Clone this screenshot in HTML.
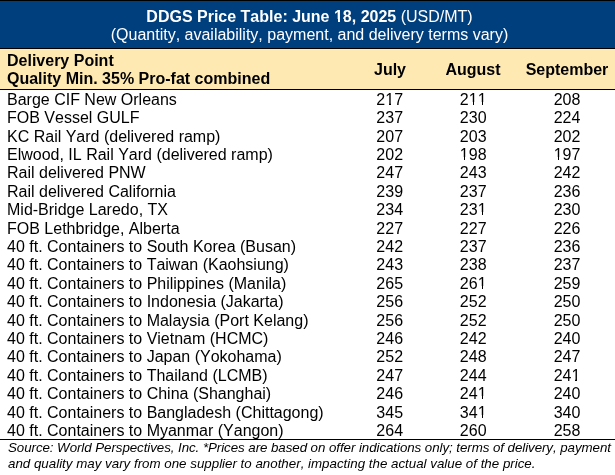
<!DOCTYPE html>
<html><head><meta charset="utf-8"><style>
*{margin:0;padding:0;box-sizing:border-box}
html,body{width:615px;height:475px;overflow:hidden;background:#fff}
body{position:relative;font-family:"Liberation Sans",sans-serif;color:#000;font-kerning:none;font-feature-settings:"kern" 0}
.a{position:absolute;white-space:nowrap}
.t{will-change:transform}
.r{position:absolute;left:0;width:615px;will-change:transform;height:18px;line-height:18px;font-size:16px}
.c{position:absolute;top:0;width:80px;text-align:center}
.o{font-style:normal;position:relative}
.o::before,.o::after{content:'';position:absolute;background:#fff;height:2.2px;bottom:3.35px}
.o::before{left:0;width:4px}
.o::after{left:5.55px;width:4px}
.ob{font-style:normal;position:relative}
.ob::before,.ob::after{content:'';position:absolute;background:#003f7d;height:2.2px;bottom:3.35px}
.ob::before{left:0;width:4px}
.ob::after{left:6px;width:4px}
</style></head><body>

<div class="a" style="left:0;top:0;width:615px;height:1px;background:#000"></div>
<div class="a" style="left:0;top:1px;width:615px;height:47px;background:#003f7d"></div>
<div class="a" style="left:0;top:48px;width:615px;height:1px;background:#000"></div>
<div class="a" style="left:0;top:49px;width:615px;height:40px;background:#fee9b2"></div>
<div class="a" style="left:0;top:89px;width:615px;height:1px;background:#000"></div>
<div class="a t" style="left:1.5px;top:8.06px;width:615px;text-align:center;color:#fff;font-size:16px;line-height:18px"><b>DDGS Price Table: June <i class="ob">1</i>8, 2025</b> (USD/MT)<br>(Quantity, availability, payment, and delivery terms vary)</div>
<div class="a t" style="left:7px;top:51.956px;font-weight:bold;font-size:16px;line-height:18px">Delivery Point<br>Quality Min. 35% Pro-fat combined</div>
<div class="a t" style="left:329.7px;top:61.456px;width:120px;text-align:center;font-weight:bold;font-size:16px;line-height:18px">July</div>
<div class="a t" style="left:413.2px;top:61.456px;width:120px;text-align:center;font-weight:bold;font-size:16px;line-height:18px">August</div>
<div class="a t" style="left:507px;top:61.456px;width:120px;text-align:center;font-weight:bold;font-size:16px;line-height:18px">September</div>
<div class="r" style="top:90.72px"><span class="a" style="left:7px">Barge CIF New Orleans</span>
<span class="c" style="left:349.70px">2<i class="o">1</i>7</span>
<span class="c" style="left:433.20px">2<i class="o">1</i><i class="o">1</i></span>
<span class="c" style="left:527.00px">208</span>
</div>
<div class="r" style="top:109.12px"><span class="a" style="left:7px">FOB Vessel GULF</span>
<span class="c" style="left:349.70px">237</span>
<span class="c" style="left:433.20px">230</span>
<span class="c" style="left:527.00px">224</span>
</div>
<div class="r" style="top:127.53px"><span class="a" style="left:7px">KC Rail Yard (delivered ramp)</span>
<span class="c" style="left:349.70px">207</span>
<span class="c" style="left:433.20px">203</span>
<span class="c" style="left:527.00px">202</span>
</div>
<div class="r" style="top:145.93px"><span class="a" style="left:7px">Elwood, IL Rail Yard (delivered ramp)</span>
<span class="c" style="left:349.70px">202</span>
<span class="c" style="left:433.20px"><i class="o">1</i>98</span>
<span class="c" style="left:527.00px"><i class="o">1</i>97</span>
</div>
<div class="r" style="top:164.33px"><span class="a" style="left:7px">Rail delivered PNW</span>
<span class="c" style="left:349.70px">247</span>
<span class="c" style="left:433.20px">243</span>
<span class="c" style="left:527.00px">242</span>
</div>
<div class="r" style="top:182.73px"><span class="a" style="left:7px">Rail delivered California</span>
<span class="c" style="left:349.70px">239</span>
<span class="c" style="left:433.20px">237</span>
<span class="c" style="left:527.00px">236</span>
</div>
<div class="r" style="top:201.14px"><span class="a" style="left:7px">Mid-Bridge Laredo, TX</span>
<span class="c" style="left:349.70px">234</span>
<span class="c" style="left:433.20px">23<i class="o">1</i></span>
<span class="c" style="left:527.00px">230</span>
</div>
<div class="r" style="top:219.54px"><span class="a" style="left:7px">FOB Lethbridge, Alberta</span>
<span class="c" style="left:349.70px">227</span>
<span class="c" style="left:433.20px">227</span>
<span class="c" style="left:527.00px">226</span>
</div>
<div class="r" style="top:237.94px"><span class="a" style="left:7px">40 ft. Containers to South Korea (Busan)</span>
<span class="c" style="left:349.70px">242</span>
<span class="c" style="left:433.20px">237</span>
<span class="c" style="left:527.00px">236</span>
</div>
<div class="r" style="top:256.35px"><span class="a" style="left:7px">40 ft. Containers to Taiwan (Kaohsiung)</span>
<span class="c" style="left:349.70px">243</span>
<span class="c" style="left:433.20px">238</span>
<span class="c" style="left:527.00px">237</span>
</div>
<div class="r" style="top:274.75px"><span class="a" style="left:7px">40 ft. Containers to Philippines (Manila)</span>
<span class="c" style="left:349.70px">265</span>
<span class="c" style="left:433.20px">26<i class="o">1</i></span>
<span class="c" style="left:527.00px">259</span>
</div>
<div class="r" style="top:293.15px"><span class="a" style="left:7px">40 ft. Containers to Indonesia (Jakarta)</span>
<span class="c" style="left:349.70px">256</span>
<span class="c" style="left:433.20px">252</span>
<span class="c" style="left:527.00px">250</span>
</div>
<div class="r" style="top:311.56px"><span class="a" style="left:7px">40 ft. Containers to Malaysia (Port Kelang)</span>
<span class="c" style="left:349.70px">256</span>
<span class="c" style="left:433.20px">252</span>
<span class="c" style="left:527.00px">250</span>
</div>
<div class="r" style="top:329.96px"><span class="a" style="left:7px">40 ft. Containers to Vietnam (HCMC)</span>
<span class="c" style="left:349.70px">246</span>
<span class="c" style="left:433.20px">242</span>
<span class="c" style="left:527.00px">240</span>
</div>
<div class="r" style="top:348.36px"><span class="a" style="left:7px">40 ft. Containers to Japan (Yokohama)</span>
<span class="c" style="left:349.70px">252</span>
<span class="c" style="left:433.20px">248</span>
<span class="c" style="left:527.00px">247</span>
</div>
<div class="r" style="top:366.76px"><span class="a" style="left:7px">40 ft. Containers to Thailand (LCMB)</span>
<span class="c" style="left:349.70px">247</span>
<span class="c" style="left:433.20px">244</span>
<span class="c" style="left:527.00px">24<i class="o">1</i></span>
</div>
<div class="r" style="top:385.17px"><span class="a" style="left:7px">40 ft. Containers to China (Shanghai)</span>
<span class="c" style="left:349.70px">246</span>
<span class="c" style="left:433.20px">24<i class="o">1</i></span>
<span class="c" style="left:527.00px">240</span>
</div>
<div class="r" style="top:403.57px"><span class="a" style="left:7px">40 ft. Containers to Bangladesh (Chittagong)</span>
<span class="c" style="left:349.70px">345</span>
<span class="c" style="left:433.20px">34<i class="o">1</i></span>
<span class="c" style="left:527.00px">340</span>
</div>
<div class="r" style="top:421.97px"><span class="a" style="left:7px">40 ft. Containers to Myanmar (Yangon)</span>
<span class="c" style="left:349.70px">264</span>
<span class="c" style="left:433.20px">260</span>
<span class="c" style="left:527.00px">258</span>
</div>
<div class="a" style="left:0;top:439px;width:615px;height:1px;background:#000"></div>
<div class="a t" style="left:7.5px;top:439.88px;font-style:italic;font-size:13.333px;line-height:16px;letter-spacing:-0.065px">Source: World Perspectives, Inc. *Prices are based on offer indications only; terms of delivery, payment</div>
<div class="a t" style="left:7.5px;top:456.38px;font-style:italic;font-size:13.333px;line-height:16px;letter-spacing:0px">and quality may vary from one supplier to another, impacting the actual value of the price.</div>
</body></html>
